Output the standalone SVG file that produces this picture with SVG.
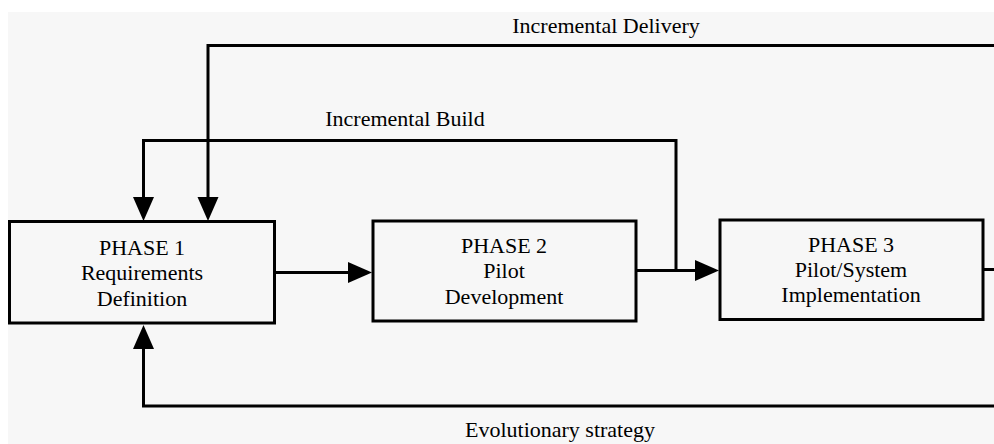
<svg xmlns="http://www.w3.org/2000/svg" width="994" height="444" viewBox="0 0 994 444">
  <style>
    .box { fill: #f7f7f7; stroke: #000; stroke-width: 3; }
    .wire { fill: none; stroke: #000; stroke-width: 3; stroke-linejoin: miter; }
    .arrowed { marker-end: url(#head); }
    text { font-family: "Liberation Serif", "Times New Roman", serif; font-size: 22px; fill: #000; text-anchor: middle; }
  </style>
  <defs>
    <!-- solid triangular head; the wire ends at its base -->
    <marker id="head" markerUnits="userSpaceOnUse" markerWidth="26" markerHeight="22" refX="0" refY="10.5" orient="auto" overflow="visible">
      <path d="M0,0 L24,10.5 L0,21 Z" fill="#000"/>
    </marker>
  </defs>

  <!-- canvas -->
  <rect x="0" y="0" width="994" height="444" fill="#fff"/>
  <rect x="8" y="12" width="986" height="432" fill="#f7f7f7"/>

  <!-- connectors -->
  <g id="connectors">
    <path class="wire arrowed" d="M276,272.5 H348"/>
    <path class="wire arrowed" d="M637,270.5 H695"/>
    <path class="wire arrowed" d="M676,270.5 V140.5 H143.5 V197"/>
    <path class="wire arrowed" d="M994,45.5 H208 V197"/>
    <path class="wire" d="M983,269.5 H994"/>
    <path class="wire arrowed" d="M994,406 H143.5 V349"/>
  </g>

  <!-- edge labels -->
  <g id="labels">
    <text x="606" y="33">Incremental Delivery</text>
    <text x="405" y="126">Incremental Build</text>
    <text x="560" y="437">Evolutionary strategy</text>
  </g>

  <g id="phase1">
    <rect class="box" x="9.5" y="221.5" width="265" height="101.5"/>
    <text x="142" y="255">PHASE 1</text>
    <text x="142" y="280">Requirements</text>
    <text x="142" y="306">Definition</text>
  </g>

  <g id="phase2">
    <rect class="box" x="373" y="221" width="263" height="100"/>
    <text x="504" y="253">PHASE 2</text>
    <text x="504" y="278">Pilot</text>
    <text x="504" y="304">Development</text>
  </g>

  <g id="phase3">
    <rect class="box" x="720" y="220" width="263" height="99.5"/>
    <text x="851" y="252">PHASE 3</text>
    <text x="851" y="277">Pilot/System</text>
    <text x="851" y="302">Implementation</text>
  </g>
</svg>
